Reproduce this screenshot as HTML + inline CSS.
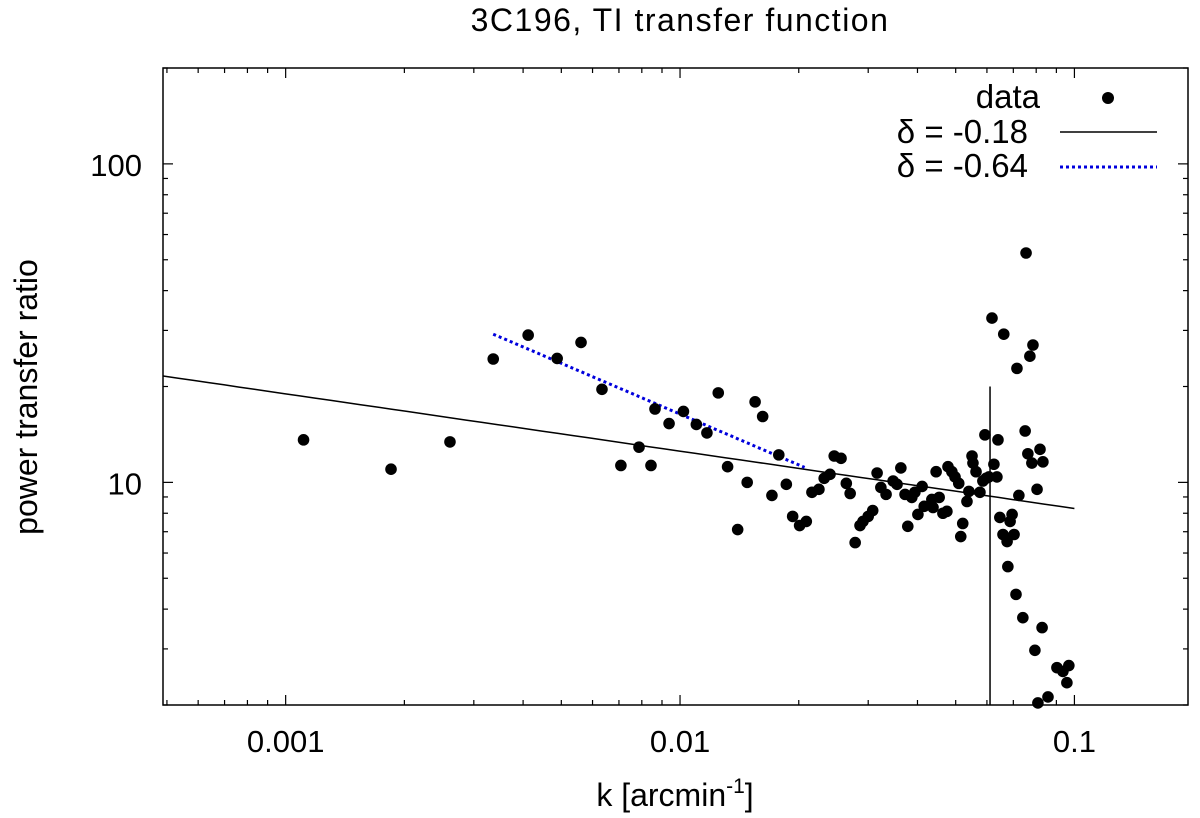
<!DOCTYPE html>
<html><head><meta charset="utf-8">
<style>
html,body{margin:0;padding:0;background:#fff;}
svg{display:block;font-family:"Liberation Sans",sans-serif;}
</style></head>
<body>
<svg id="chart" width="1200" height="818" viewBox="0 0 1200 818" xmlns="http://www.w3.org/2000/svg">
<text x="680" y="31" font-size="32" letter-spacing="1.5" text-anchor="middle">3C196, TI transfer function</text>
<text x="0" y="0" font-size="32" text-anchor="middle" transform="translate(37,397) rotate(-90)">power transfer ratio</text>
<text x="675" y="806" font-size="32" text-anchor="middle">k [arcmin<tspan dy="-13" font-size="21">-1</tspan><tspan dy="13">]</tspan></text>
<g id="ticks"></g>
<g id="lines"></g>
<g id="points"></g>
<rect x="163" y="68" width="1025" height="637" fill="none" stroke="#000" stroke-width="1.5"/>
<g>
<text x="1040" y="108" font-size="33" text-anchor="end">data</text>
<circle cx="1108" cy="98" r="6"/>
<text x="1028" y="143" font-size="33" text-anchor="end">δ = -0.18</text>
<line x1="1060" y1="132" x2="1157" y2="132" stroke="#000" stroke-width="1.5"/>
<text x="1028" y="177" font-size="33" text-anchor="end">δ = -0.64</text>
<line x1="1060" y1="167" x2="1157" y2="167" stroke="#0000dd" stroke-width="3" stroke-dasharray="3,3"/>
</g>
</svg>
<script>
const kValues=[0.00111,0.00185,0.00261,0.00336,0.00412,0.00488,0.00561,0.00634,0.00708,0.00787,0.00864,0.00938,0.0102,0.0110,0.0117,0.0125,0.0132,0.0140,0.0148,0.0155,0.0162,0.0171,0.0178,0.0186,0.0193,0.0201,0.0209,0.0216,0.0225,0.0232,0.0240,0.0246,0.0256,0.0264,0.0270,0.0278,0.0286,0.0291,0.0300,0.0308,0.0316,0.0323,0.0333,0.0347,0.0355,0.0363,0.0372,0.0378,0.0387,0.0394,0.0401,0.0411,0.0416,0.0435,0.0438,0.0446,0.0454,0.0464,0.0475,0.0478,0.0489,0.0498,0.0509,0.0515,0.0521,0.0534,0.0540,0.0550,0.0553,0.0563,0.0576,0.0586,0.0597,0.0593,0.0607,0.0618,0.0625,0.0636,0.0640,0.0647,0.0659,0.0662,0.0675,0.0687,0.0695,0.0703,0.0678,0.0711,0.0715,0.0723,0.0740,0.0750,0.0754,0.0762,0.0771,0.0780,0.0785,0.0794,0.0804,0.0808,0.0818,0.0828,0.0832,0.0857,0.0903,0.0935,0.0968,0.0957,0.00844];
const ratioValues=[13.6,11.0,13.4,24.4,29.0,24.5,27.5,19.6,11.3,12.9,17.0,15.3,16.7,15.2,14.3,19.1,11.2,7.11,10.0,17.9,16.1,9.10,12.2,9.86,7.82,7.32,7.54,9.31,9.51,10.3,10.6,12.1,11.9,9.93,9.23,6.47,7.32,7.54,7.82,8.16,10.7,9.64,9.17,10.1,9.86,11.1,9.17,7.28,8.97,9.31,7.93,9.71,8.41,8.84,8.34,10.8,8.97,8.00,8.11,11.2,10.8,10.4,9.93,6.76,7.43,8.71,9.37,12.1,11.5,10.8,9.31,10.1,10.3,14.1,10.4,32.8,11.4,10.4,13.6,7.76,6.86,29.2,6.52,7.54,7.93,6.86,5.44,4.45,22.8,9.10,3.76,14.5,52.5,12.3,24.9,11.5,27.0,2.97,9.51,2.03,12.7,3.50,11.6,2.12,2.62,2.55,2.66,2.35,11.3];
const xTickValues=[0.001,0.01,0.1];
const xTickLabels=["0.001","0.01","0.1"];
const yTickValues=[10,100];
const yTickLabels=["10","100"];
const fit1=[8.28,-0.18,0.000489,0.1];
const fit2=[29.2,-0.53,0.00336,0.0207];
const cutoffK=[0.0611];
const cutoffTop=[20.0];

const L=163,R=1188,T=68,B=705;
const lxMin=-3.311,lxMax=-0.712,lyMin=Math.log10(2),lyMax=Math.log10(200);
const xs=k=>L+(Math.log10(k)-lxMin)/(lxMax-lxMin)*(R-L);
const ys=v=>B-(Math.log10(v)-lyMin)/(lyMax-lyMin)*(B-T);
const NS="http://www.w3.org/2000/svg";
function mk(tag,attrs,parent){const e=document.createElementNS(NS,tag);for(const k in attrs)e.setAttribute(k,attrs[k]);parent.appendChild(e);return e;}

const tg=document.getElementById('ticks');
for(let d=-4;d<=0;d++){for(let m=1;m<=9;m++){const k=m*Math.pow(10,d);const lk=Math.log10(k);if(lk<lxMin||lk>lxMax)continue;const x=xs(k);const len=m===1?10:5;
const t1=mk('line',{x1:x,y1:B,x2:x,y2:B-len,stroke:'#000','stroke-width':1.2},tg);


const t2=mk('line',{x1:x,y1:T,x2:x,y2:T+len,stroke:'#000','stroke-width':1.2},tg);

}}
for(let d=0;d<=2;d++){for(let m=1;m<=9;m++){const v=m*Math.pow(10,d);const lv=Math.log10(v);if(lv<lyMin-1e-9||lv>lyMax+1e-9)continue;const y=ys(v);const len=m===1?10:5;
const t1=mk('line',{x1:L,y1:y,x2:L+len,y2:y,stroke:'#000','stroke-width':1.2},tg);


const t2=mk('line',{x1:R,y1:y,x2:R-len,y2:y,stroke:'#000','stroke-width':1.2},tg);

}}
xTickValues.forEach((v,i)=>{const t=mk('text',{x:xs(v),y:752,'font-size':31,'text-anchor':'middle'},tg);t.textContent=xTickLabels[i];

});
yTickValues.forEach((v,i)=>{const t=mk('text',{x:142,y:ys(v)+12,'font-size':31,'text-anchor':'end'},tg);t.textContent=yTickLabels[i];

});

const lg=document.getElementById('lines');
function powPath(A,p,k0,k1,kref){let d='';for(let i=0;i<=60;i++){const k=Math.pow(10,Math.log10(k0)+(Math.log10(k1)-Math.log10(k0))*i/60);const v=A*Math.pow(k/kref,p);d+=(i?'L':'M')+xs(k).toFixed(1)+','+ys(v).toFixed(1);}return d;}
const f1=mk('path',{d:powPath(fit1[0],fit1[1],fit1[2],fit1[3],0.1),fill:'none',stroke:'#000','stroke-width':1.5},lg);


const f2=mk('path',{d:powPath(fit2[0],fit2[1],fit2[2],fit2[3],fit2[2]),fill:'none',stroke:'#0000dd','stroke-width':3,'stroke-dasharray':'3,3'},lg);


const vc=mk('line',{x1:xs(cutoffK[0]),y1:ys(cutoffTop[0]),x2:xs(cutoffK[0]),y2:B,stroke:'#000','stroke-width':1.5},lg);



const pg=document.getElementById('points');
kValues.forEach((k,i)=>{const c=mk('circle',{cx:xs(k),cy:ys(ratioValues[i]),r:5.8,fill:'#000'},pg);

});
</script>
</body></html>
